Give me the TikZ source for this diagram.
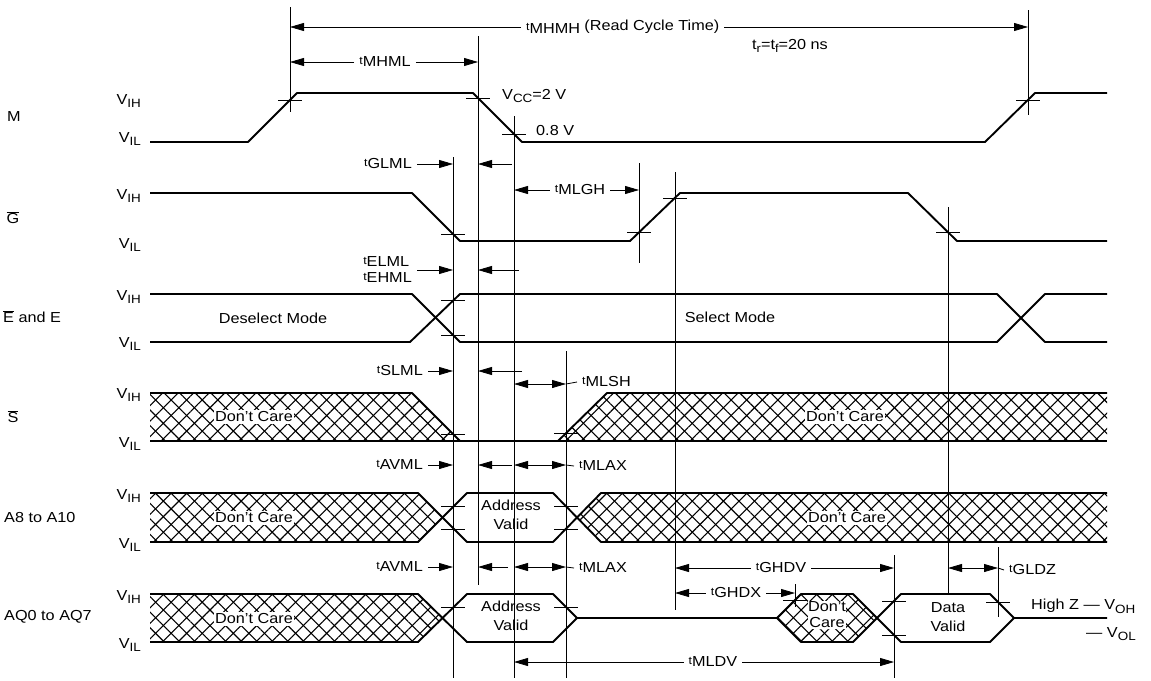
\documentclass[tikz,border=0pt]{standalone}
\usepackage{fontspec}
\setmainfont{Liberation Sans}[FakeStretch=1.12]
\usetikzlibrary{arrows.meta,patterns.meta}
\newcommand{\tsb}[1]{{\fontsize{11}{11}\selectfont t}\raisebox{-0.35ex}{\fontsize{14.5}{14.5}\selectfont #1}}
\newcommand{\vsb}[2]{#1\raisebox{-0.5ex}{\fontsize{12}{12}\selectfont #2}}
\begin{document}
\begin{tikzpicture}[x=1pt,y=-1pt,
  sig/.style={line width=1.9pt, line join=round},
  guide/.style={line width=0.8pt},
  tick/.style={line width=0.8pt},
  arr/.style={line width=0.8pt,-{Triangle[length=14pt,width=8pt]}},
  darr/.style={line width=0.8pt,{Triangle[length=14pt,width=8pt]}-{Triangle[length=14pt,width=8pt]}},
  lbl/.style={font=\fontsize{14.5}{19}\selectfont, inner sep=0pt},
  tl/.style={lbl, inner xsep=5pt},
  dc/.style={lbl, fill=white, inner sep=1.5pt},
  hatch/.style={pattern={Lines[angle=45,distance=11pt,line width=1.1pt]},
                postaction={pattern={Lines[angle=-45,distance=11pt,line width=1.1pt]}}}]
\useasboundingbox (0,0) rectangle (1151,680);

% ---- row labels
\node[lbl] (lM) at (14,117) {M};
\node[lbl] (lG) at (13,218) {$\overline{\mbox{G}}$};
\node[lbl,anchor=west] (lE) at (3,317) {$\overline{\mbox{E}}$ and E};
\node[lbl] (lS) at (13,417) {$\overline{\mbox{S}}$};
\node[lbl,anchor=west] (lA) at (4,518) {A8 to A10};
\node[lbl,anchor=west] (lAQ) at (4,617) {AQ0 to AQ7};

% ---- level labels
\foreach \n/\yh/\yl in {m/104/142, g/199/248, e/300/347, s/398/447, a/499/548, q/600/648}{
  \node[lbl,anchor=base east] (vih\n) at (141,\yh) {\vsb{V}{IH}};
  \node[lbl,anchor=base east] (vil\n) at (141,\yl) {\vsb{V}{IL}};
}

% ---- hatched areas
\path[hatch] (150,393) -- (412,393) -- (460,441) -- (150,441) -- cycle;
\path[hatch] (558,441) -- (607,393) -- (1107,393) -- (1107,441) -- cycle;
\path[hatch] (150,493) -- (418,493) -- (442,517.5) -- (418,542) -- (150,542) -- cycle;
\path[hatch] (577,517.5) -- (601,493) -- (1107,493) -- (1107,542) -- (601,542) -- cycle;
\path[hatch] (150,594) -- (418,594) -- (442,618) -- (418,642) -- (150,642) -- cycle;
\path[hatch] (777,618) -- (801,594) -- (853,594) -- (877,618) -- (853,642) -- (801,642) -- cycle;

% ---- signals
\draw[sig] (150,142) -- (248,142) -- (297,93) -- (473,93) -- (522,142) -- (985,142) -- (1035,93) -- (1107,93);
\draw[sig] (150,193) -- (412,193) -- (460,241) -- (630,241) -- (680,193) -- (908,193) -- (957,241) -- (1107,241);
\draw[sig] (150,294) -- (412,294) -- (460,342) -- (997,342) -- (1045,294) -- (1107,294);
\draw[sig] (150,342) -- (410,342) -- (460,294) -- (997,294) -- (1045,342) -- (1107,342);
\draw[sig] (150,393) -- (412,393) -- (460,441);
\draw[sig] (558,441) -- (607,393) -- (1107,393);
\draw[sig] (150,441) -- (1107,441);
\draw[sig] (150,493) -- (418,493) -- (467,542) -- (553,542) -- (601,493) -- (1107,493);
\draw[sig] (150,542) -- (418,542) -- (467,493) -- (553,493) -- (601,542) -- (1107,542);
\draw[sig] (150,594) -- (418,594) -- (467,642) -- (553,642) -- (577,618) -- (777,618) -- (801,594) -- (853,594) -- (901,642) -- (990,642) -- (1014,618) -- (1107,618);
\draw[sig] (150,642) -- (418,642) -- (467,594) -- (553,594) -- (577,618);
\draw[sig] (777,618) -- (801,642) -- (853,642) -- (901,594) -- (990,594) -- (1014,618);

% ---- region labels
\node[dc] (dcs1) at (254,417) {Don't Care};
\node[dc] (dcs2) at (845,417) {Don't Care};
\node[dc] (dca1) at (254,518) {Don't Care};
\node[dc] (dca2) at (847,518) {Don't Care};
\node[dc] (dcq1) at (254,619) {Don't Care};
\node[dc,align=center,inner sep=0.5pt,font=\fontsize{14.5}{16}\selectfont] (dcq2) at (827,615) {Don't\\Care};
\node[lbl,align=center] (av1) at (511,515) {Address\\Valid};
\node[lbl,align=center] (av2) at (511,616) {Address\\Valid};
\node[lbl,align=center] (dv) at (948,617) {Data\\Valid};
\node[lbl] (desel) at (273,318) {Deselect Mode};
\node[lbl] (sel) at (730,317) {Select Mode};

% ---- guide lines
\draw[guide] (290,7) -- (290,112);
\draw[guide] (1028,10) -- (1028,115);
\draw[guide] (478,36) -- (478,585);
\draw[guide] (514,116) -- (514,678);
\draw[guide] (453,157) -- (453,678);
\draw[guide] (639,163) -- (639,263);
\draw[guide] (675,172) -- (675,610);
\draw[guide] (948,207) -- (948,594);
\draw[guide] (566,351) -- (566,678);
\draw[guide] (894,555) -- (894,678);
\draw[guide] (998,547) -- (998,617);
\draw[guide] (795,584) -- (795,607);

% ---- threshold ticks
\foreach \x/\y in {290/100, 478/98, 514/134, 1028/100,
                   453/234, 639/232, 675/198, 948/232,
                   453/300, 453/335, 453/434, 566/433,
                   453/506, 453/529, 566/506, 566/529,
                   453/607, 566/607, 795/600, 894/601, 894/635, 998/602}
  \draw[tick] (\x-12,\y) -- (\x+12,\y);

% ---- timing annotations
\node[tl,anchor=west] (mhmh) at (521,27) {\tsb{MHMH}\hspace{0.3em}(Read Cycle Time)};
\draw[arr] (mhmh.west) -- (290,27);
\draw[arr] (mhmh.east) -- (1028,27);
\node[lbl] (trtf) at (790,46) {t\raisebox{-0.4ex}{\fontsize{11.5}{11.5}\selectfont r}=t\raisebox{-0.4ex}{\fontsize{11.5}{11.5}\selectfont f}=20 ns};

\node[tl] (mhml) at (385,62) {\tsb{MHML}};
\draw[arr] (mhml.west) -- (290,62);
\draw[arr] (mhml.east) -- (478,62);

\node[lbl,anchor=west] (vcc) at (502,96) {\vsb{V}{CC}=2 V};
\node[lbl,anchor=west] (v08) at (536,131) {0.8 V};

\node[tl,anchor=east] (glml) at (417,164) {\tsb{GLML}};
\draw[arr] (glml.east) -- (453,164);
\coordinate (glr) at (512,164);
\draw[arr] (glr) -- (478,164);

\node[tl] (mlgh) at (580,190) {\tsb{MLGH}};
\draw[arr] (mlgh.west) -- (514,190);
\draw[arr] (mlgh.east) -- (639,190);

\node[tl,anchor=east,align=left,font=\fontsize{14.5}{16}\selectfont] (elml) at (417,270) {\tsb{ELML}\\\tsb{EHML}};
\draw[arr] (elml.east) -- (453,270);
\coordinate (elr) at (519,270);
\draw[arr] (elr) -- (478,270);

\node[tl,anchor=east] (slml) at (428,371) {\tsb{SLML}};
\draw[arr] (slml.east) -- (453,371);
\coordinate (slr) at (522,371);
\draw[arr] (slr) -- (478,371);
\coordinate (mlsha) at (514,384);
\coordinate (mlshb) at (566,384);
\draw[darr] (mlsha) -- (mlshb);
\node[tl,anchor=west] (mlsh) at (577,382) {\tsb{MLSH}};
\draw[guide] (mlshb) -- (mlsh.west);

\node[tl,anchor=east] (avml1) at (428,465) {\tsb{AVML}};
\draw[arr] (avml1.east) -- (453,465);
\coordinate (av1r) at (512,465);
\draw[arr] (av1r) -- (478,465);
\coordinate (mlax1a) at (514,465);
\coordinate (mlax1b) at (566,465);
\draw[darr] (mlax1a) -- (mlax1b);
\node[tl,anchor=west] (mlax1) at (574,466) {\tsb{MLAX}};
\draw[guide] (mlax1b) -- (mlax1.west);

\node[tl,anchor=east] (avml2) at (428,567) {\tsb{AVML}};
\draw[arr] (avml2.east) -- (453,567);
\coordinate (av2r) at (508,567);
\draw[arr] (av2r) -- (478,567);
\coordinate (mlax2a) at (514,567);
\coordinate (mlax2b) at (566,567);
\draw[darr] (mlax2a) -- (mlax2b);
\node[tl,anchor=west] (mlax2) at (574,568) {\tsb{MLAX}};
\draw[guide] (mlax2b) -- (mlax2.west);

\node[tl] (ghdv) at (781,568) {\tsb{GHDV}};
\draw[arr] (ghdv.west) -- (675,568);
\draw[arr] (ghdv.east) -- (894,568);

\node[tl] (ghdx) at (736,593) {\tsb{GHDX}};
\draw[arr] (ghdx.west) -- (675,593);
\draw[arr] (ghdx.east) -- (795,593);

\coordinate (gldza) at (948,568);
\coordinate (gldzb) at (998,568);
\draw[darr] (gldza) -- (gldzb);
\node[tl,anchor=west] (gldz) at (1004,570) {\tsb{GLDZ}};
\draw[guide] (gldzb) -- (gldz.west);

\node[tl] (mldv) at (713,662) {\tsb{MLDV}};
\draw[arr] (mldv.west) -- (514,662);
\draw[arr] (mldv.east) -- (894,662);

\node[lbl,anchor=west] (hiz) at (1031,606) {High Z \textemdash\ \vsb{V}{OH}};
\node[lbl,anchor=west] (vol) at (1086,634) {\textemdash\ \vsb{V}{OL}};
\end{tikzpicture}
\end{document}
